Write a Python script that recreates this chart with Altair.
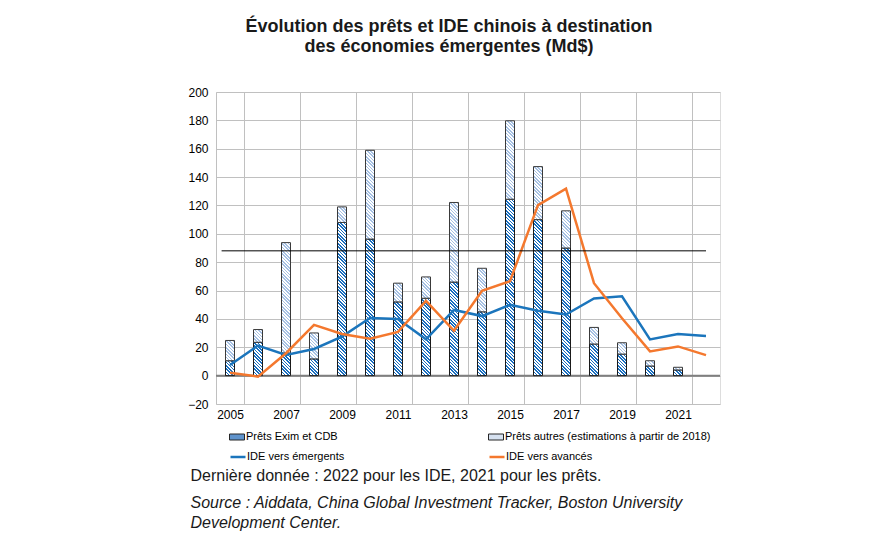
import altair as alt
import pandas as pd

# ---------------- data ----------------
years_loans = list(range(2005, 2022))
years_ide = list(range(2005, 2023))
prets_exim = [10.5, 23.5, 16.0, 11.8, 108.0, 96.3, 52.0, 54.6, 66.0, 45.0,
              124.4, 110.0, 90.0, 22.3, 15.2, 6.8, 4.0]
prets_autres = [14.3, 9.0, 77.8, 18.3, 11.0, 62.6, 13.2, 15.0, 56.1, 30.7,
                55.3, 37.4, 26.2, 11.7, 8.0, 3.7, 1.9]
ide_emergents = [7.5, 21.2, 14.6, 18.8, 27.5, 40.7, 40.0, 25.6, 46.3, 42.0,
                 49.9, 45.7, 43.1, 54.4, 56.0, 25.5, 29.3, 27.9]
ide_avances = [2.1, -0.7, 15.8, 35.8, 29.4, 26.1, 30.8, 52.7, 31.6, 59.8,
               66.6, 120.2, 131.9, 65.2, 40.5, 17.1, 20.6, 14.5]
ref_line = 88
x_tick_years = list(range(2005, 2022, 2))

names = ["Prêts Exim et CDB", "Prêts autres (estimations à partir de 2018)",
         "IDE vers émergents", "IDE vers avancés"]
title_lines = ["Évolution des prêts et IDE chinois à destination",
               "des économies émergentes (Md$)"]
note_text = "Dernière donnée : 2022 pour les IDE, 2021 pour les prêts."
source_lines = ["Source : Aiddata, China Global Investment Tracker, Boston University",
                "Development Center."]

# ---------------- style ----------------
FONT = "Liberation Sans"
W, H = 504, 312
YMIN, YMAX = -20, 200
PX = H / (YMAX - YMIN)
BAR_W = 9
DARK = "#1a6fc0"
LIGHT = "#a6c1e4"
BLUE = "#1b75bc"
ORANGE = "#f4782e"
GRID = "#c0c0c0"


def hatch(h_px, color, bg="#ffffff", w=BAR_W, period=3.3, thick=1.6):
    """Diagonal hatching as a hard-stop linear gradient (bounding-box units)."""
    h = max(h_px, 0.5)
    span = w + h
    t = span / (w * w + h * h)
    stops = []
    n = 0
    while n * period < span:
        a = n * period / span
        b = min((n * period + thick) / span, 1.0)
        c = min((n + 1) * period / span, 1.0)
        stops += [(a, color), (b, color), (b, bg), (c, bg)]
        n += 1
    return {
        "gradient": "linear",
        "x1": 0, "y1": 1, "x2": round(t * w, 6), "y2": round(1 - t * h, 6),
        "stops": [{"offset": round(o, 5), "color": col} for o, col in stops],
    }


x_scale = alt.Scale(domain=years_ide, paddingInner=0, paddingOuter=0)
x_axis = alt.Axis(
    values=x_tick_years, tickBand="extent", grid=True, gridColor=GRID,
    gridWidth=1, ticks=False, domain=False, labelAngle=0, labelPadding=5,
    labelFont=FONT, labelFontSize=12, labelColor="#000000",
    title=note_text, titleFont=FONT, titleFontSize=16, titleFontWeight="normal",
    titleColor="#1a1a1a", titleAlign="left", titleBaseline="alphabetic",
    titleAngle=0, titleX=-26, titleY=76,
)
y_scale = alt.Scale(domain=[YMIN, YMAX], nice=False, zero=False)
y_axis = alt.Axis(
    values=list(range(YMIN, YMAX + 1, 20)), grid=True, gridColor=GRID,
    gridWidth=1, ticks=False, domain=False, labelPadding=8,
    labelFont=FONT, labelFontSize=12, labelColor="#000000",
    title=source_lines, titleFont=FONT, titleFontSize=16,
    titleFontWeight="normal", titleFontStyle="italic", titleColor="#1a1a1a",
    titleAngle=0, titleAlign="left", titleBaseline="alphabetic",
    titleX=-26, titleY=415, titleLineHeight=20,
)


def X(field="year:O", **kw):
    return alt.X(field, scale=x_scale, axis=x_axis, **kw)


def Y(field):
    return alt.Y(field, scale=y_scale, axis=y_axis)


layers = []

# zero line
layers.append(
    alt.Chart(pd.DataFrame({"v": [0]})).mark_rule(color="#7f7f7f", strokeWidth=2)
    .encode(y=Y("v:Q"))
)

# hatched stacked bars
for i, yr in enumerate(years_loans):
    e = prets_exim[i]
    a = prets_autres[i]
    segs = [(0.0, e, DARK, "#1a1a1a"), (e, e + a, LIGHT, "#3a3a3a")]
    for lo, hi, col, edge in segs:
        df = pd.DataFrame({"year": [yr], "lo": [lo], "hi": [hi]})
        layers.append(
            alt.Chart(df).mark_bar(
                size=BAR_W, fill=hatch((hi - lo) * PX, col),
                stroke=edge, strokeWidth=1,
            ).encode(x=X(), y=Y("lo:Q"), y2="hi:Q")
        )

# legend carriers for bars (no data drawn)
legend_common = dict(
    orient="none", title=None, padding=0, labelFont=FONT, labelFontSize=11,
    labelColor="#000000", symbolSize=225, labelLimit=500,
)
bar_symbol = "M-1,-0.4H1V0.4H-1Z"
for j, (nm, col, lx) in enumerate([(names[0], "#5f93cc", 13),
                                   (names[1], "#d6e1f0", 272)]):
    df = pd.DataFrame({"s": [nm]})
    layers.append(
        alt.Chart(df).transform_filter("false").mark_bar(stroke="#262626", strokeWidth=1)
        .encode(fill=alt.Fill(
            "s:N", scale=alt.Scale(domain=[nm], range=[col]),
            legend=alt.Legend(legendX=lx, legendY=337, symbolType=bar_symbol,
                              symbolStrokeColor="#262626", symbolStrokeWidth=1,
                              labelOffset=1, **legend_common)))
    )

# lines
for nm, vals, col, lx in [(names[2], ide_emergents, BLUE, 13),
                          (names[3], ide_avances, ORANGE, 272)]:
    df = pd.DataFrame({"year": years_ide, "v": vals, "s": nm})
    layers.append(
        alt.Chart(df).mark_line(strokeWidth=2.5)
        .encode(
            x=X(), y=Y("v:Q"),
            stroke=alt.Stroke(
                "s:N", scale=alt.Scale(domain=[nm], range=[col]),
                legend=alt.Legend(legendX=lx, legendY=356, symbolType="stroke",
                                  symbolStrokeWidth=2.5, labelOffset=0,
                                  **legend_common)),
        )
    )

# horizontal reference line
df_ref = pd.DataFrame({"x": [years_ide[0]], "x2": [years_ide[-1]], "v": [ref_line]})
layers.append(
    alt.Chart(df_ref).mark_rule(color="#000000", strokeWidth=1)
    .encode(x=X("x:O", bandPosition=0.2), x2=alt.X2("x2", bandPosition=0.5),
            y=Y("v:Q"))
)

chart = (
    alt.layer(*layers)
    .resolve_scale(fill="independent", stroke="independent")
    .properties(
        width=W, height=H,
        autosize=alt.AutoSizeParams(type="none"),
        padding={"left": 216, "top": 92, "right": 176, "bottom": 138},
        title=alt.TitleParams(
            text=title_lines, font=FONT, fontSize=18, fontWeight="bold",
            color="#1a1a1a", anchor="middle", frame="group", dx=-19,
            offset=30, lineHeight=20,
        ),
    )
    .configure_view(stroke="#000000", strokeWidth=1.5)
    .configure(background="#ffffff")
)

chart.save("out.html", embed_options={"renderer": "svg", "actions": False})
